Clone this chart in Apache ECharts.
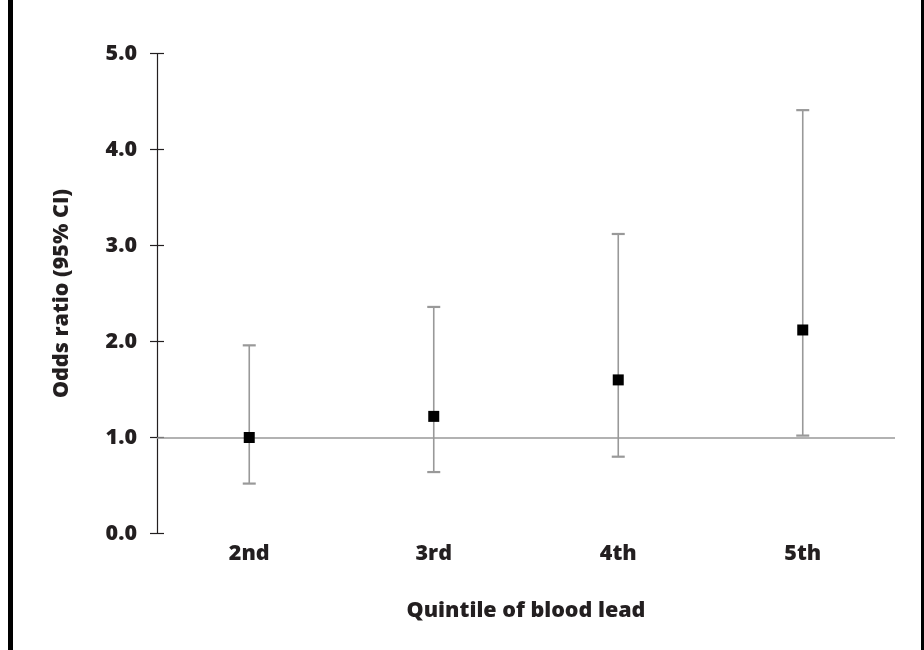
<!DOCTYPE html>
<html>
<head>
<meta charset="utf-8">
<script src="https://cdn.jsdelivr.net/npm/echarts@6/dist/echarts.min.js"></script>
<style>
html,body{margin:0;padding:0;background:#fff;}
#c{width:924px;height:650px;}
</style>
</head>
<body>
<div id="c"></div>
<script>
const categories = ['2nd', '3rd', '4th', '5th'];
const oddsRatio = [1.00, 1.22, 1.60, 2.12];
const ciLow = [0.52, 0.64, 0.80, 1.02];
const ciHigh = [1.96, 2.36, 3.12, 4.41];
const yTicks = [0, 1, 2, 3, 4, 5];
const referenceValue = 1.0;

const FONT = 'Open Sans';
const FS = 21.5;
const FW = 800;
const TXT = '#231f20';
const GRAY = '#999999';

const chart = echarts.init(document.getElementById('c'), null, {renderer: 'canvas'});

const errData = categories.map((c, i) => [i, ciLow[i], ciHigh[i]]);

const option = {
  backgroundColor: '#ffffff',
  animation: false,
  grid: {left: 157, right: 29, top: 53.5, bottom: 116.5, containLabel: false},
  xAxis: {
    type: 'category',
    data: categories,
    boundaryGap: true,
    axisLine: {show: false},
    axisTick: {show: false},
    axisLabel: {color: TXT, fontFamily: FONT, fontWeight: FW, fontSize: FS, margin: 9},
    name: 'Quintile of blood lead',
    nameLocation: 'middle',
    nameGap: 66,
    nameTextStyle: {color: TXT, fontFamily: FONT, fontWeight: FW, fontSize: FS}
  },
  yAxis: [{
    type: 'value',
    min: yTicks[0], max: yTicks[yTicks.length - 1], interval: 1,
    splitLine: {show: false},
    axisLine: {show: true, lineStyle: {color: TXT, width: 1.2}},
    axisTick: {show: true, length: 7, lineStyle: {color: TXT, width: 1.2}},
    axisLabel: {color: TXT, fontFamily: FONT, fontWeight: FW, fontSize: FS, margin: 20,
      formatter: v => v.toFixed(1)},
    name: 'Odds ratio (95% CI)',
    nameLocation: 'middle',
    nameGap: 84,
    nameTextStyle: {color: TXT, fontFamily: FONT, fontWeight: FW, fontSize: FS}
  }, {
    type: 'value',
    position: 'left',
    min: yTicks[0], max: yTicks[yTicks.length - 1], interval: 1,
    splitLine: {show: false},
    axisLine: {show: false},
    axisTick: {show: true, inside: true, length: 7, lineStyle: {color: TXT, width: 1.2}},
    axisLabel: {show: false}
  }],
  series: [{
    type: 'custom',
    data: errData,
    z: 2,
    renderItem: function (params, api) {
      const x = api.value(0);
      const lo = api.coord([x, api.value(1)]);
      const hi = api.coord([x, api.value(2)]);
      const hw = 6.5;
      const style = {stroke: GRAY, lineWidth: 1.6};
      return {
        type: 'group',
        children: [
          {type: 'line', shape: {x1: lo[0], y1: lo[1], x2: hi[0], y2: hi[1]}, style: style},
          {type: 'line', shape: {x1: lo[0] - hw, y1: lo[1], x2: lo[0] + hw, y2: lo[1]}, style: {stroke: GRAY, lineWidth: 2.2}},
          {type: 'line', shape: {x1: hi[0] - hw, y1: hi[1], x2: hi[0] + hw, y2: hi[1]}, style: {stroke: GRAY, lineWidth: 2.2}}
        ]
      };
    }
  }, {
    type: 'scatter',
    data: oddsRatio,
    symbol: 'rect',
    symbolSize: 11,
    z: 5,
    itemStyle: {color: '#000000', opacity: 1},
    markLine: {
      silent: true,
      symbol: 'none',
      label: {show: false},
      lineStyle: {color: GRAY, width: 1.6, type: 'solid'},
      data: [{yAxis: referenceValue}]
    }
  }],
  graphic: [
    {type: 'rect', left: 8, top: 0, shape: {width: 5, height: 650}, style: {fill: '#000'}},
    {type: 'rect', left: 921, top: 0, shape: {width: 3, height: 650}, style: {fill: '#000'}}
  ]
};
chart.setOption(option);
</script>
</body>
</html>
